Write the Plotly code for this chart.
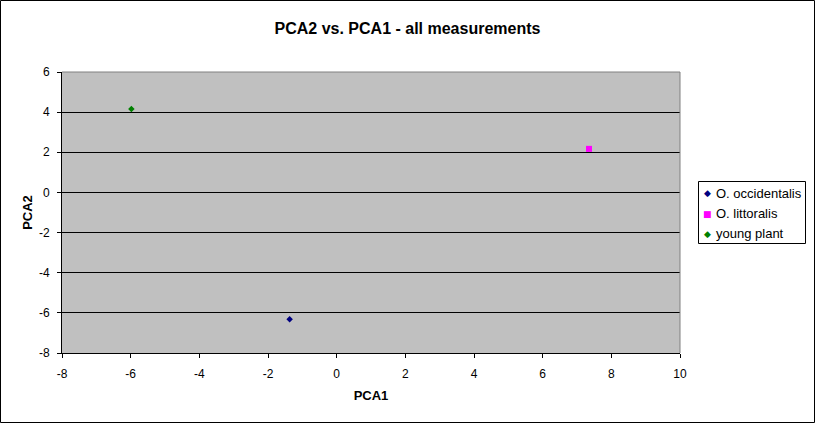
import plotly.graph_objects as go

# values
series_names = ["O. occidentalis", "O. littoralis", "young plant"]
pca1_values = [-1.37, 7.35, -5.98]
pca2_values = [-6.32, 2.17, 4.16]
marker_symbols = ["diamond", "square", "diamond"]
marker_glyphs = ["\u25C6", "\u25A0", "\u25C6"]
marker_colors = ["#000080", "#FF00FF", "#008000"]

x_tick_values = [-8, -6, -4, -2, 0, 2, 4, 6, 8, 10]
x_tick_labels = ["-8", "-6", "-4", "-2", "0", "2", "4", "6", "8", "10"]
y_tick_values = [-8, -6, -4, -2, 0, 2, 4, 6]
y_tick_labels = ["-8", "-6", "-4", "-2", "0", "2", "4", "6"]

W, H = 815, 423
ML, MR, MT, MB = 62, 135, 72, 70
PW, PH = W - ML - MR, H - MT - MB

FONT = "Liberation Sans, Arial, sans-serif"


def px_x(px):
    return (px - ML) / PW


def px_y(py):
    return (H - MB - py) / PH


fig = go.Figure()
for name, x, y, sym, col in zip(series_names, pca1_values, pca2_values,
                                marker_symbols, marker_colors):
    fig.add_trace(go.Scatter(
        x=[x], y=[y], mode="markers", name=name, showlegend=False,
        marker=dict(symbol=sym, size=5 if sym == "diamond" else 6, color=col,
                    line=dict(width=0)),
    ))

axis_common = dict(
    showline=True, linecolor="black", linewidth=1, mirror=False,
    ticks="outside", ticklen=4, tickcolor="black", tickwidth=1,
    tickfont=dict(family=FONT, size=12, color="black"),
    zeroline=False,
)

fig.update_layout(
    width=W, height=H,
    margin=dict(l=ML, r=MR, t=MT, b=MB, autoexpand=False),
    paper_bgcolor="white",
    plot_bgcolor="#C0C0C0",
    font=dict(family=FONT, size=12, color="black"),
    title=dict(text="<b>PCA2 vs. PCA1 - all measurements</b>",
               x=0.5, xref="container", xanchor="center",
               y=1 - 28 / H, yanchor="middle",
               font=dict(family=FONT, size=16, color="black")),
    xaxis=dict(range=[-8, 10], showgrid=False,
               tickvals=x_tick_values, ticktext=x_tick_labels,
               ticklabelstandoff=6,
               title=dict(text="<b>PCA1</b>", standoff=10,
                          font=dict(family=FONT, size=13)),
               **axis_common),
    yaxis=dict(range=[-8, 6], showgrid=True, gridcolor="black", gridwidth=1,
               tickvals=y_tick_values, ticktext=y_tick_labels,
               ticklabelstandoff=5,
               title=dict(text="<b>PCA2</b>", standoff=3,
                          font=dict(family=FONT, size=13)),
               **axis_common),
    showlegend=False,
)

# gray frame on top and right of the plot area
fig.add_shape(type="line", xref="paper", yref="paper", x0=0, x1=1, y0=1, y1=1,
              line=dict(color="#808080", width=1))
fig.add_shape(type="line", xref="paper", yref="paper", x0=1, x1=1, y0=0, y1=1,
              line=dict(color="#808080", width=1))
# black border round the whole chart
fig.add_shape(type="rect", xref="paper", yref="paper",
              x0=px_x(0.5), x1=px_x(W - 0.5), y0=px_y(H - 0.5), y1=px_y(0.5),
              line=dict(color="black", width=1), fillcolor="rgba(0,0,0,0)")

# Excel-style legend box
fig.add_shape(type="rect", xref="paper", yref="paper",
              x0=px_x(698.5), x1=px_x(805.5), y0=px_y(243.5), y1=px_y(181.5),
              line=dict(color="black", width=1), fillcolor="white")
row_y = [193, 213.5, 234]
for name, glyph, col, ry in zip(series_names, marker_glyphs, marker_colors, row_y):
    fig.add_annotation(x=px_x(708), y=px_y(ry), xref="paper", yref="paper",
                       text=glyph, showarrow=False, xanchor="center",
                       yanchor="middle",
                       font=dict(family="DejaVu Sans", size=9, color=col))
    fig.add_annotation(x=px_x(714), y=px_y(ry), xref="paper", yref="paper",
                       text=name, showarrow=False, xanchor="left",
                       yanchor="middle",
                       font=dict(family=FONT, size=13, color="black"))

fig.write_html("out.html",
               config={"displayModeBar": False},
               post_script="document.body.style.margin='0';"
                           "document.body.style.overflow='hidden';")
